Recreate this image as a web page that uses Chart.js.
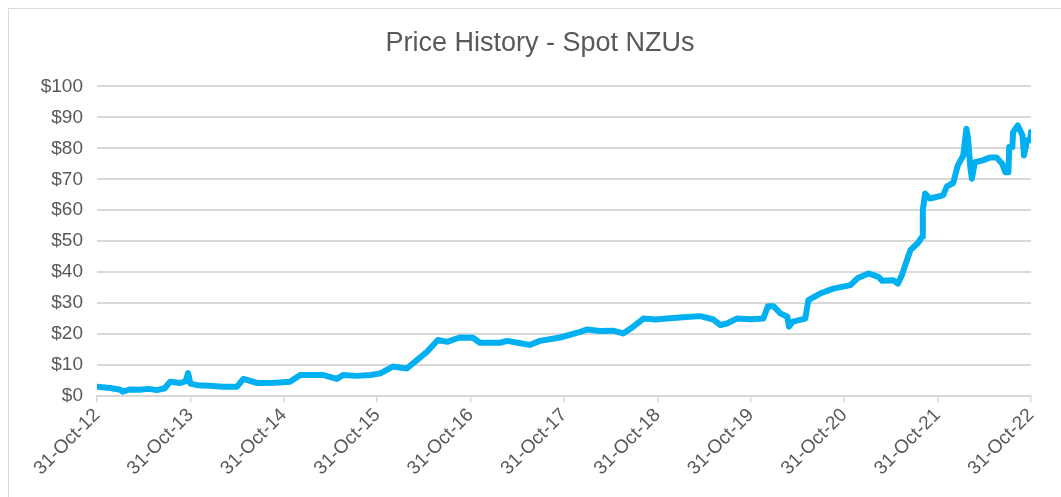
<!DOCTYPE html>
<html>
<head>
<meta charset="utf-8">
<title>Price History - Spot NZUs</title>
<script src="https://cdn.jsdelivr.net/npm/chart.js@4"></script>
<style>
    body { margin: 0; background: #fff; }
    #quadro { position: relative; width: 1061px; height: 497px; overflow: hidden; }
    #moldura { position: absolute; left: 8px; top: 8px; width: 1060px; height: 500px; border: 1px solid #d9d9d9; box-sizing: border-box; }
    #graficoPreco { position: absolute; left: 0; top: 0; }
</style>
</head>
<body>
<div id="quadro">
    <div id="moldura"></div>
    <canvas id="graficoPreco" width="1061" height="497"></canvas>
</div>
<script>
// Dados (x = meses desde 31-Oct-12)
let meses = [0, 1.7, 3.0, 3.3, 4.2, 5.5, 6.6, 7.7, 8.7, 9.4, 10.7, 11.4, 11.7, 12.0, 12.9, 14.5, 16.2, 18.0, 18.8,
    20.6, 22.9, 24.8, 26.1, 29.0, 30.8, 31.6, 33.4, 35.1, 36.4, 38.0, 39.8, 41.1, 42.4, 43.8, 45.0,
    46.6, 48.3, 49.2, 51.8, 52.7, 54.2, 55.6, 56.9, 59.5, 62.1, 63.0, 64.6, 66.3, 67.6, 68.9, 70.2, 71.8, 73.2,
    75.3, 77.5, 79.2, 80.1, 81.0, 82.2, 84.0, 85.6, 86.2, 86.9, 87.8, 88.7, 88.9, 89.4, 91.0, 91.4, 92.9,
    94.6, 96.8, 97.7, 99.1, 100.4, 100.9, 102.3, 102.9, 103.4, 104.5, 105.5, 106.0, 106.1,
    106.4, 107.0, 108.7, 109.2, 110.0, 110.6, 111.3, 111.7, 111.9, 112.2, 112.4, 112.8, 113.8,
    114.7, 115.6, 116.3, 116.7, 117.1, 117.2, 117.6, 117.7, 118.3, 118.9, 119.1, 119.5, 119.9, 120];
let precos = [3.0, 2.6, 2.0, 1.4, 2.1, 2.0, 2.3, 1.9, 2.5, 4.6, 4.2, 4.8, 7.4, 4.0, 3.5, 3.3, 3.0, 3.0, 5.5,
    4.2, 4.3, 4.6, 6.8, 6.8, 5.5, 6.8, 6.5, 6.8, 7.3, 9.5, 8.9, 11.6, 14.3, 18.1, 17.5,
    18.9, 18.8, 17.2, 17.2, 17.8, 17.1, 16.5, 17.8, 18.9, 20.7, 21.5, 21.0, 21.1, 20.2, 22.4, 25.0, 24.7, 25.0,
    25.4, 25.8, 24.7, 22.9, 23.5, 25.0, 24.8, 25.0, 29.0, 29.0, 26.7, 25.6, 22.4, 24.0, 25.0, 31.0, 33.1,
    34.7, 35.8, 38.0, 39.6, 38.5, 37.2, 37.4, 36.3, 39.0, 47.1, 49.5, 51.4, 60.0,
    65.4, 63.8, 64.8, 67.7, 68.8, 74.5, 77.7, 86.3, 83.6, 73.9, 70.2, 75.5, 76.1,
    77.0, 77.0, 75.0, 72.3, 72.3, 80.4, 80.4, 85.3, 87.4, 84.2, 77.7, 82.6, 82.6, 85.3];
let rotulosX = ['31-Oct-12', '31-Oct-13', '31-Oct-14', '31-Oct-15', '31-Oct-16', '31-Oct-17',
    '31-Oct-18', '31-Oct-19', '31-Oct-20', '31-Oct-21', '31-Oct-22'];
let rotulosY = ['$0', '$10', '$20', '$30', '$40', '$50', '$60', '$70', '$80', '$90', '$100'];

let pontos = meses.map((m, i) => ({ x: m, y: precos[i] }));
let fonte = "'Liberation Sans', Arial, sans-serif";

document.addEventListener('DOMContentLoaded', function () {
    let ctx = document.getElementById('graficoPreco').getContext('2d');
    new Chart(ctx, {
        type: 'line',
        data: {
            datasets: [{
                label: 'Spot NZU',
                data: pontos,
                borderColor: '#00b0f0',
                borderWidth: 6,
                borderJoinStyle: 'round',
                borderCapStyle: 'round',
                pointRadius: 0,
                tension: 0,
                fill: false
            }]
        },
        options: {
            responsive: false,
            animation: false,
            layout: { padding: { left: 19, right: 0, top: 0, bottom: 0 } },
            plugins: {
                legend: { display: false },
                tooltip: { enabled: false },
                title: {
                    display: true,
                    text: 'Price History - Spot NZUs',
                    color: '#595959',
                    font: { family: fonte, size: 27, weight: 'normal' },
                    padding: { top: 27, bottom: 27 }
                }
            },
            scales: {
                x: {
                    type: 'linear',
                    min: 0,
                    max: 120,
                    afterFit: function (escala) { escala.height = 101; },
                    afterBuildTicks: function (escala) {
                        escala.ticks = rotulosX.map((r, i) => ({ value: i * 12 }));
                    },
                    ticks: {
                        autoSkip: false,
                        minRotation: 45,
                        maxRotation: 45,
                        color: '#595959',
                        font: { family: fonte, size: 19 },
                        padding: 2,
                        callback: function (v) { return rotulosX[Math.round(v / 12)]; }
                    },
                    grid: {
                        drawOnChartArea: false,
                        drawTicks: true,
                        tickLength: 6,
                        color: '#d9d9d9',
                        lineWidth: 1.5
                    },
                    border: { display: true, color: '#d9d9d9', width: 2 }
                },
                y: {
                    min: 0,
                    max: 100,
                    afterFit: function (escala) { escala.width = 78; },
                    ticks: {
                        stepSize: 10,
                        color: '#595959',
                        font: { family: fonte, size: 19 },
                        padding: 14,
                        callback: function (v) { return rotulosY[Math.round(v / 10)]; }
                    },
                    grid: { color: '#d9d9d9', lineWidth: 2, drawTicks: false },
                    border: { display: false }
                },
                // eixo vazio só para reservar a margem direita
                margemDireita: {
                    type: 'linear',
                    position: 'right',
                    display: true,
                    min: 0,
                    max: 100,
                    afterFit: function (escala) { escala.width = 30; },
                    ticks: { display: false },
                    grid: { display: false },
                    border: { display: false }
                }
            }
        }
    });
});
</script>
</body>
</html>
